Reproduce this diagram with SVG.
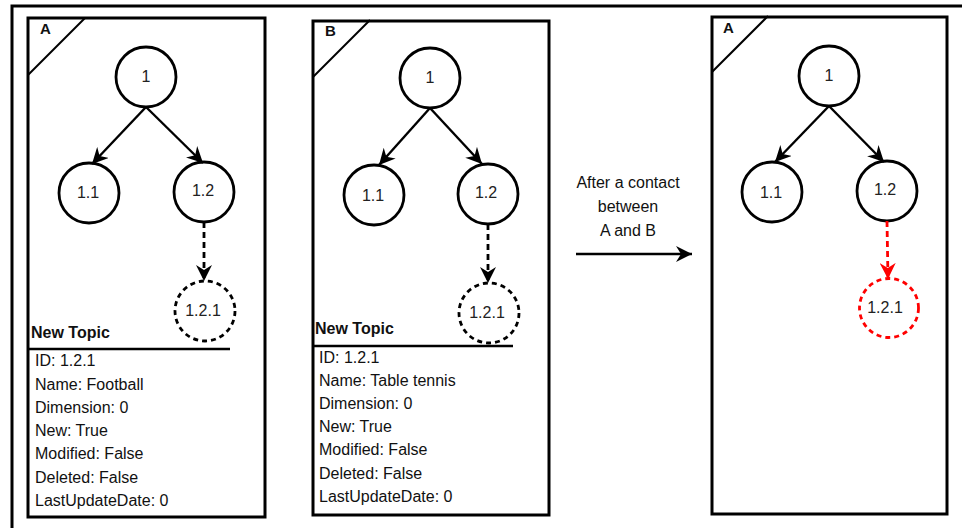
<svg xmlns="http://www.w3.org/2000/svg" width="962" height="528" viewBox="0 0 962 528">
<defs>
<marker id="ah" markerUnits="userSpaceOnUse" markerWidth="18" markerHeight="16" refX="16" refY="8" orient="auto">
<path d="M0,0 L16,8 L0,16 L5,8 z" fill="#000"/>
</marker>
<marker id="ahr" markerUnits="userSpaceOnUse" markerWidth="18" markerHeight="16" refX="16" refY="8" orient="auto">
<path d="M0,0 L16,8 L0,16 L5,8 z" fill="#ff0000"/>
</marker>
<style>
.frame{fill:none;stroke:#000;stroke-width:3}
.panel{fill:#fff;stroke:#000;stroke-width:3}
.node{fill:#fff;stroke:#000;stroke-width:2.8}
.dnode{fill:#fff;stroke:#000;stroke-width:2.8;stroke-dasharray:5 4}
.rnode{fill:#fff;stroke:#ff0000;stroke-width:2.8;stroke-dasharray:5 4}
.edge{fill:none;stroke:#000;stroke-width:2.4;marker-end:url(#ah)}
.dedge{fill:none;stroke:#000;stroke-width:2.8;stroke-dasharray:6 4;marker-end:url(#ah)}
.redge{fill:none;stroke:#ff0000;stroke-width:2.8;stroke-dasharray:6 4;marker-end:url(#ahr)}
.sep{stroke:#000;stroke-width:2.5}
.diag{stroke:#000;stroke-width:2}
text{font-family:"Liberation Sans",Arial,sans-serif;fill:#111}
.lbl{font-size:16px;text-anchor:middle;fill:#222}
.corner{font-size:15px;font-weight:bold}
.title{font-size:16px;font-weight:bold}
.attr{font-size:16px}
.mid{font-size:16px;text-anchor:middle}
</style>
</defs>
<rect class="frame" x="12" y="6" width="960" height="530"/>

<!-- Panel A (left) -->
<g id="panelA1">
<rect class="panel" x="28" y="18" width="237" height="499"/>
<line class="diag" x1="28" y1="75" x2="85" y2="18"/>
<text class="corner" x="40" y="34">A</text>
<text class="title" x="31" y="338">New Topic</text>
<line class="sep" x1="28" y1="349" x2="230" y2="349"/>
<text class="attr" x="35" y="366">ID: 1.2.1</text>
<text class="attr" x="35" y="390">Name: Football</text>
<text class="attr" x="35" y="413">Dimension: 0</text>
<text class="attr" x="35" y="436">New: True</text>
<text class="attr" x="35" y="459">Modified: False</text>
<text class="attr" x="35" y="483">Deleted: False</text>
<text class="attr" x="35" y="506">LastUpdateDate: 0</text>
</g>
<g id="a1-n1"><circle class="node" cx="146" cy="77" r="30"/><text class="lbl" x="146" y="82">1</text></g>
<g id="a1-n11"><circle class="node" cx="89" cy="193" r="30"/><text class="lbl" x="88" y="198">1.1</text></g>
<g id="a1-n12"><circle class="node" cx="204" cy="192" r="30"/><text class="lbl" x="203" y="196">1.2</text></g>
<g id="a1-n121"><circle class="dnode" cx="205" cy="311" r="30"/><text class="lbl" x="203" y="316">1.2.1</text></g>

<!-- Panel B -->
<g id="panelB">
<rect class="panel" x="313" y="21" width="236" height="494"/>
<line class="diag" x1="313" y1="77" x2="370" y2="20"/>
<text class="corner" x="325" y="36">B</text>
<text class="title" x="315" y="334">New Topic</text>
<line class="sep" x1="313" y1="346" x2="513" y2="346"/>
<text class="attr" x="319" y="363">ID: 1.2.1</text>
<text class="attr" x="319" y="386">Name: Table tennis</text>
<text class="attr" x="319" y="409">Dimension: 0</text>
<text class="attr" x="319" y="432">New: True</text>
<text class="attr" x="319" y="455">Modified: False</text>
<text class="attr" x="319" y="479">Deleted: False</text>
<text class="attr" x="319" y="502">LastUpdateDate: 0</text>
</g>
<g id="b-n1"><circle class="node" cx="430" cy="78" r="30"/><text class="lbl" x="430" y="83">1</text></g>
<g id="b-n11"><circle class="node" cx="374" cy="195" r="30"/><text class="lbl" x="373" y="201">1.1</text></g>
<g id="b-n12"><circle class="node" cx="488" cy="194" r="30"/><text class="lbl" x="486" y="198">1.2</text></g>
<g id="b-n121"><circle class="dnode" cx="489" cy="313" r="30"/><text class="lbl" x="487" y="318">1.2.1</text></g>

<!-- Panel A (right) -->
<g id="panelA2">
<rect class="panel" x="712" y="17" width="235" height="497"/>
<line class="diag" x1="712" y1="72" x2="768" y2="16"/>
<text class="corner" x="723" y="33">A</text>
</g>
<g id="a2-n1"><circle class="node" cx="829" cy="76" r="30"/><text class="lbl" x="829" y="81">1</text></g>
<g id="a2-n11"><circle class="node" cx="772" cy="192" r="30"/><text class="lbl" x="771" y="198">1.1</text></g>
<g id="a2-n12"><circle class="node" cx="887" cy="191" r="30"/><text class="lbl" x="885" y="195">1.2</text></g>
<g id="a2-n121"><circle class="rnode" cx="889" cy="308" r="29.5"/><text class="lbl" x="885" y="313">1.2.1</text></g>

<g id="label-mid">
<text class="mid" x="628" y="188">After a contact</text>
<text class="mid" x="628" y="212">between</text>
<text class="mid" x="628" y="236">A and B</text>
</g>

<g id="connectors">
<line class="edge" x1="146" y1="107" x2="92" y2="164"/>
<line class="edge" x1="146" y1="107" x2="203" y2="163"/>
<line class="dedge" x1="204" y1="222" x2="204" y2="281"/>
<line class="edge" x1="430" y1="108" x2="379" y2="165"/>
<line class="edge" x1="430" y1="108" x2="482" y2="164"/>
<line class="dedge" x1="488" y1="224" x2="488" y2="283"/>
<line class="edge" x1="829" y1="106" x2="775" y2="162"/>
<line class="edge" x1="829" y1="106" x2="884" y2="162"/>
<line class="redge" x1="887" y1="221" x2="888" y2="279"/>
<line class="edge" x1="576" y1="254" x2="692" y2="254"/>
</g>
</svg>
